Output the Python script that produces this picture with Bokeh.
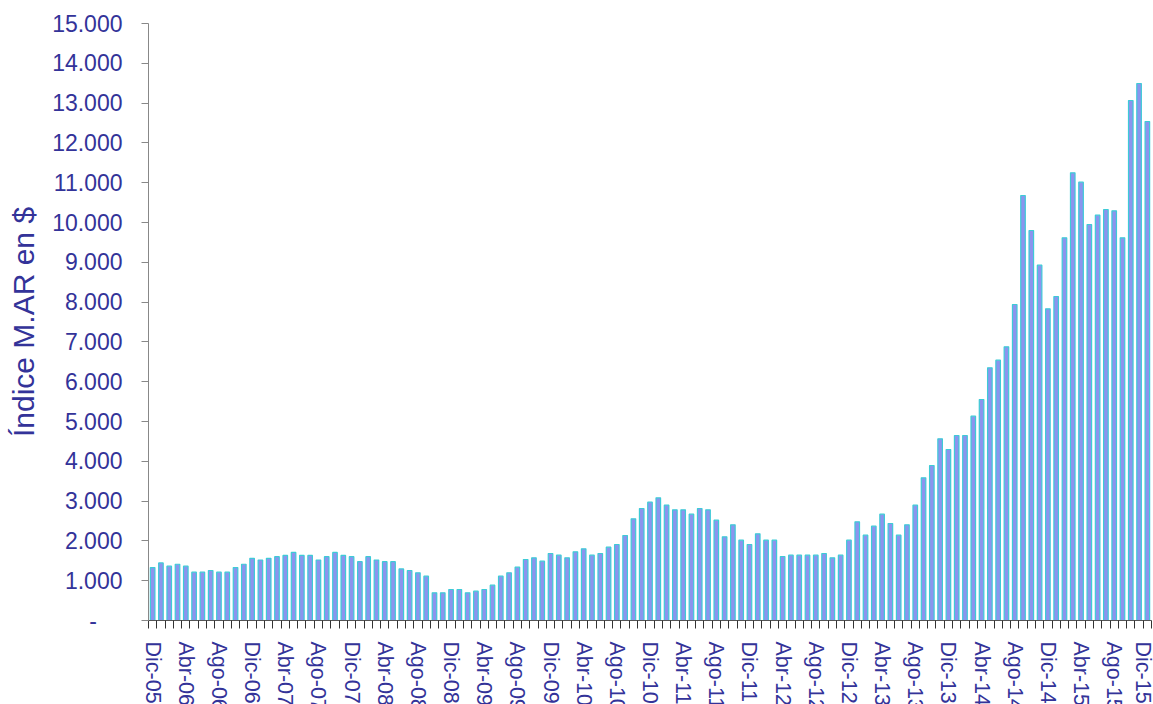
from bokeh.plotting import figure
from bokeh.models import Range1d, FixedTicker
from bokeh.embed import file_html
from bokeh.resources import INLINE

# Monthly index values (Dic-05 .. Dic-15)
values = [
    1330, 1446, 1364, 1413, 1364, 1215, 1215, 1256, 1215, 1215, 1330, 1413,
    1562, 1520, 1562, 1603, 1636, 1711, 1636, 1636, 1520, 1603, 1711, 1636,
    1603, 1479, 1603, 1520, 1479, 1479, 1297, 1256, 1198, 1113, 695, 695,
    779, 779, 695, 737, 779, 888, 1113, 1198, 1340, 1533, 1575, 1491,
    1683, 1642, 1575, 1725, 1800, 1642, 1683, 1843, 1910, 2136, 2554, 2814,
    2973, 3082, 2898, 2780, 2780, 2672, 2814, 2780, 2521, 2102, 2404, 2018,
    1910, 2178, 2018, 2018, 1608, 1642, 1642, 1642, 1642, 1683, 1575, 1642,
    2018, 2479, 2144, 2370, 2672, 2437, 2144, 2404, 2898, 3585, 3894, 4564,
    4296, 4648, 4648, 5134, 5553, 6348, 6541, 6876, 7940, 10678, 9799, 8928,
    7832, 8141, 9615, 11249, 11013, 9950, 10184, 10327, 10294, 9615, 13065, 13492,
    12538,
]

# Category tick labels (every fourth month)
tick_labels = [
    "Dic-05", "Abr-06", "Ago-06", "Dic-06", "Abr-07", "Ago-07", "Dic-07",
    "Abr-08", "Ago-08", "Dic-08", "Abr-09", "Ago-09", "Dic-09", "Abr-10",
    "Ago-10", "Dic-10", "Abr-11", "Ago-11", "Dic-11", "Abr-12", "Ago-12",
    "Dic-12", "Abr-13", "Ago-13", "Dic-13", "Abr-14", "Ago-14", "Dic-14",
    "Abr-15", "Ago-15", "Dic-15",
]

y_ticks = list(range(0, 15001, 1000))
y_tick_labels = ["-\u00a0\u00a0\u00a0\u00a0"] + [
    "{:,}".format(v).replace(",", ".") for v in y_ticks[1:]
]

n = len(values)
xs = list(range(1, n + 1))

TXT = "#333399"

p = figure(
    output_backend="svg", toolbar_location=None,
    frame_width=1003, frame_height=597,
    min_border_left=148, min_border_top=23, min_border_right=3, min_border_bottom=0,
    x_range=Range1d(0.5, n + 0.5), y_range=Range1d(0, 15000),
    background_fill_color="white", border_fill_color="white",
)
p.outline_line_color = None
p.grid.visible = False

p.vbar(x=xs, top=values, width=0.55, bottom=0,
       fill_color="#8c94ee", line_color="#3ecbd6", line_width=1.2)

# x axis
xa = p.xaxis[0]
xa.ticker = FixedTicker(ticks=xs[::4], minor_ticks=[i + 0.5 for i in range(0, n + 1)])
xa.major_label_overrides = {x: lab for x, lab in zip(xs[::4], tick_labels)}
xa.major_label_orientation = "vertical"
xa.major_tick_out = 0
xa.major_tick_in = 0
xa.minor_tick_out = 8
xa.minor_tick_in = 0
xa.minor_tick_line_color = "#333333"
xa.axis_line_color = "#555555"
xa.major_label_standoff = 13
xa.major_label_text_font = "Liberation Sans"
xa.major_label_text_font_size = "21.5px"
xa.major_label_text_color = TXT

# y axis
ya = p.yaxis[0]
ya.ticker = FixedTicker(ticks=y_ticks)
ya.major_label_overrides = {v: lab for v, lab in zip(y_ticks, y_tick_labels)}
ya.major_tick_out = 7
ya.major_tick_in = 0
ya.minor_tick_out = 0
ya.minor_tick_in = 0
ya.axis_line_color = "#888888"
ya.major_tick_line_color = "#888888"
ya.major_label_standoff = 19
ya.major_label_text_font = "Liberation Sans"
ya.major_label_text_font_size = "23px"
ya.major_label_text_color = TXT
ya.axis_label = "Índice M.AR en $"
ya.axis_label_text_font = "Liberation Sans"
ya.axis_label_text_font_size = "30px"
ya.axis_label_text_font_style = "normal"
ya.axis_label_text_color = TXT
ya.axis_label_standoff = 9

open("out.html", "w").write(file_html(p, INLINE))
